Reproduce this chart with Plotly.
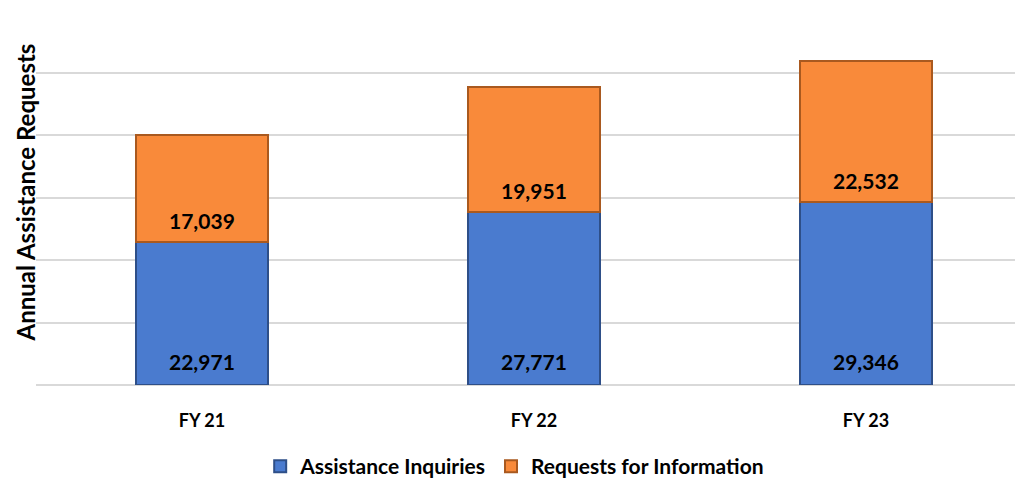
import plotly.graph_objects as go

categories = ["FY 21", "FY 22", "FY 23"]
assistance_inquiries = [22971, 27771, 29346]
requests_for_information = [17039, 19951, 22532]
tick_values = [0, 10000, 20000, 30000, 40000, 50000, 60000]

blue = "#4A7BCF"
orange = "#F98A3A"
font_family = "Lato, 'Open Sans', sans-serif"
label_font = dict(family=font_family, size=21, color="black", weight="bold")

fig = go.Figure()
fig.add_trace(go.Bar(
    x=categories, y=assistance_inquiries, name="Assistance Inquiries",
    marker=dict(color=blue, line=dict(color="#2E4F88", width=2)),
    width=0.4,
))
fig.add_trace(go.Bar(
    x=categories, y=requests_for_information, name="Requests for Information",
    marker=dict(color=orange, line=dict(color="#A9591F", width=2)),
    width=0.4,
))

# value labels near the base of each segment
for cat, a, r in zip(categories, assistance_inquiries, requests_for_information):
    fig.add_annotation(x=cat, y=0, xref="x", yref="y", text=f"{a:,}",
                       showarrow=False, yanchor="middle", yshift=24, font=label_font)
    fig.add_annotation(x=cat, y=a, xref="x", yref="y", text=f"{r:,}",
                       showarrow=False, yanchor="middle", yshift=21, font=label_font)

fig.add_annotation(
    text="Annual Assistance Requests", textangle=-90,
    xref="paper", yref="paper", x=-28 / 987, y=0.512,
    xanchor="left", yanchor="middle", showarrow=False,
    font=dict(family=font_family, size=24, color="black", weight="bold"),
)

fig.update_layout(
    barmode="stack",
    width=1015, height=472,
    margin=dict(l=28, r=0, t=2, b=95, autoexpand=False),
    plot_bgcolor="white", paper_bgcolor="white",
    font=dict(family=font_family, color="black"),
    showlegend=True,
    legend=dict(orientation="h", x=0.485, xanchor="center", y=-0.163, yanchor="top",
                font=dict(size=21, weight="bold"), traceorder="normal",
                itemwidth=30),
    xaxis=dict(range=[-0.5, 2.473], tickfont=dict(size=18, weight="bold"),
               showline=False, ticks="", ticklabelstandoff=23, automargin=False),
    yaxis=dict(range=[0, 60100], tickvals=tick_values, showticklabels=False,
               gridcolor="#D9D9D9", gridwidth=1.5, zeroline=True,
               zerolinecolor="#D9D9D9", zerolinewidth=1.5, automargin=False),
)

fig.write_html("out.html")
